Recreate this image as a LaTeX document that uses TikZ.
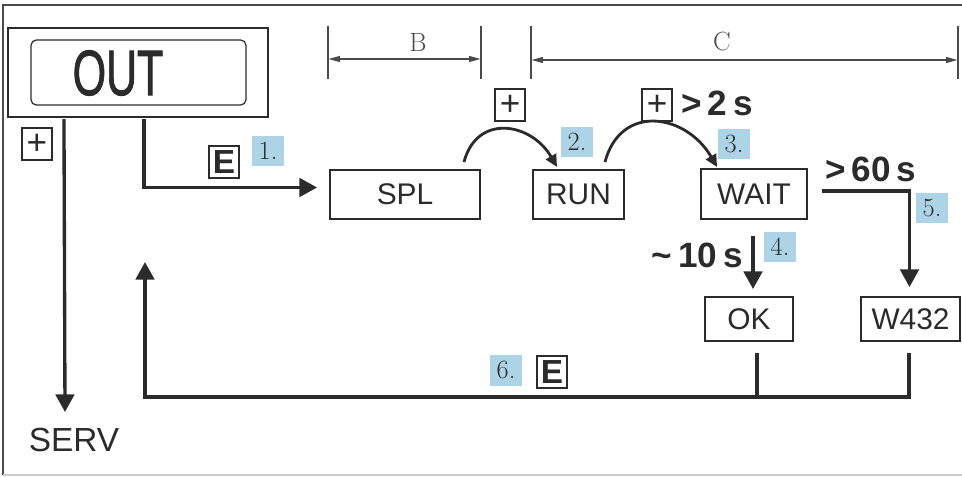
\documentclass[tikz,border=0pt]{standalone}
\usepackage{fontspec}
\usepackage{graphicx}
\usetikzlibrary{arrows.meta,calc,positioning}
\newfontfamily\arial{Liberation Sans}
\newfontfamily\outfont{Liberation Sans}[FakeBold=1.6]
\definecolor{ink}{HTML}{2B2B2B}
\definecolor{tagblue}{HTML}{ADD3E6}
\definecolor{dimgray}{HTML}{4A4A4A}

\begin{document}
\begin{tikzpicture}[
  x=0.02cm, y=-0.02cm,
  >={Triangle[length=10pt,width=10.5pt]},
  box/.style={draw=ink, line width=1.1pt, minimum height=0.98cm, inner sep=0pt,
              font=\arial\fontsize{17}{18}\selectfont, text=ink},
  flow/.style={draw=ink, line width=1.9pt},
  hop/.style={draw=ink, line width=1.6pt, -{Triangle[length=7pt,width=6.5pt]}},
  key/.style={draw=ink, line width=0.9pt, minimum width=0.6cm, minimum height=0.64cm,
              inner sep=0pt, font=\arial\fontsize{20}{20}\selectfont, text=ink},
  enter/.style={key, font=\arial\bfseries\fontsize{19}{19}\selectfont},
  tag/.style={fill=tagblue, minimum width=0.64cm, minimum height=0.62cm, inner sep=0pt,
              font=\fontsize{15}{15}\selectfont, text=ink},
  time/.style={font=\arial\bfseries\fontsize{20}{20}\selectfont, text=ink, inner sep=0pt},
  dim/.style={draw=dimgray, line width=0.6pt},
  dimarrow/.style={dim, {Triangle[length=6.5pt,width=3.4pt]}-{Triangle[length=6.5pt,width=3.4pt]}},
  dimlabel/.style={font=\fontsize{15}{15}\selectfont, text=dimgray}
]
  \useasboundingbox (0,0) rectangle (962,476);
  \draw[draw=ink!85, line width=1.2pt] (962,5) -- (3,5) -- (3,475);
  \draw[draw=black!20, line width=1pt] (3,475) -- (962,475);

  % display
  \node[draw=ink, line width=1.2pt, minimum width=5.2cm, minimum height=1.78cm] (out) at (138,72.5) {};
  \node[draw=ink, line width=0.7pt, rounded corners=3pt, minimum width=4.3cm,
        minimum height=1.3cm] (screen) at (138.5,72.5) {};
  \node[font=\outfont\fontsize{36.5}{36.5}\selectfont, text=ink] (outtext) at (118,73)
    {\scalebox{0.67}[1]{OUT}};

  % states
  \node[box, minimum width=3cm] (spl) at (405,194.5) {SPL};
  \node[box, minimum width=1.82cm] (run) at (578.5,194.5) {RUN};
  \node[box, minimum width=2.12cm, minimum height=1.0cm] (wait) at (754,194) {WAIT};
  \node[box, minimum width=1.76cm, minimum height=0.88cm] (ok) at (749,319) {OK};
  \node[box, minimum width=1.98cm, minimum height=0.88cm] (w432) at (910.5,319) {W432};
  \node[font=\arial\fontsize{19}{19}\selectfont, text=ink] (serv) at (74,440) {SERV};

  % keys and times
  \node[key] (plusserv) at (37,144) {+};
  \node[enter] (enter1) at (224,162) {E};
  \node[key] (plus1) at (510,105) {+};
  \node[key] (plus2) at (657,105) {+};
  \node[enter] (enter2) at (552,372) {E};
  \node[time, anchor=west] (twosec) at (681,103) {>\,2\,s};
  \node[time, anchor=west] (sixtysec) at (825,169) {>\,60\,s};
  \node[time, anchor=east] (tensec) at (743,255) {\textasciitilde\,10\,s};

  % steps
  \node[tag] (tag1) at (268,151) {1.};
  \node[tag] (tag2) at (577,142) {2.};
  \node[tag] (tag3) at (734,144) {3.};
  \node[tag] (tag4) at (780,247) {4.};
  \node[tag] (tag5) at (932,208) {5.};
  \node[tag] (tag6) at (506,370) {6.};

  % connectors
  \coordinate (servtip) at (65,412);
  \draw[flow,->] ($(out.south west)+(57,1)$) -- (servtip);
  \draw[flow,->] ($(out.south west)+(137,1)$) |- ($(spl.west)+(-12,-7)$);
  \draw[hop] ($(spl.north east)+(-17,-7)$) to[out=75,in=120,looseness=1.4] ($(run.north west)+(25,-2)$);
  \draw[hop] ($(run.north east)+(-20,-7)$) to[out=75,in=120,looseness=1.4] ($(wait.north west)+(17,-1)$);
  \draw[flow,->] ($(wait.south)+(-1,16)$) -- ($(ok.north)+(4,-7)$);
  \draw[flow,->] ($(wait.east)+(14,-3)$) -| ($(w432.north)+(-1,-9)$);

  \coordinate (retcorner) at (145,397);
  \coordinate (rettip) at (145,262);
  \draw[flow,->] ($(w432.south)+(-1.5,11)$) |- (retcorner) -- (rettip);
  \draw[flow] ($(ok.south)+(8,11)$) -- +(0,45);

  % dimensions
  \draw[dim] (328,26) -- (328,79);
  \draw[dim] (481,26) -- (481,79);
  \draw[dim] (531,26) -- (531,79);
  \draw[dim] (958,26) -- (958,79);
  \draw[dimarrow] (328.5,59) -- (480.5,59);
  \draw[dimarrow] (531.5,60) -- (957.5,60);
  \node[dimlabel] (dimb) at (418,43) {B};
  \node[dimlabel] (dimc) at (722,42) {C};
\end{tikzpicture}
\end{document}
